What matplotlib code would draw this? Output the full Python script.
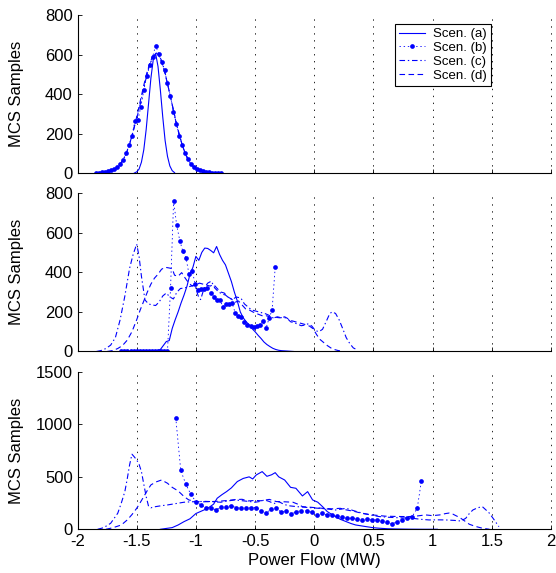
import matplotlib
matplotlib.use("Agg")
import matplotlib.pyplot as plt

# ---- data (x in MW, y = MCS samples) ----
top_x = [-1.84, -1.815, -1.79, -1.765, -1.74, -1.715, -1.69, -1.665, -1.64, -1.615,
         -1.59, -1.565, -1.54, -1.515, -1.49, -1.465, -1.44, -1.415, -1.39, -1.365,
         -1.34, -1.315, -1.29, -1.265, -1.24, -1.215, -1.19, -1.165, -1.14, -1.115,
         -1.09, -1.065, -1.04, -1.015, -0.99, -0.965, -0.94, -0.915, -0.89, -0.865,
         -0.84, -0.815, -0.79]
top_b = [1, 2, 3, 6, 10, 15, 22, 33, 47, 68,
         100, 140, 190, 262, 268, 335, 420, 490, 545, 590,
         645, 605, 560, 520, 455, 390, 310, 250, 190, 140,
         100, 70, 48, 32, 22, 15, 9, 6, 4, 2,
         1, 1, 0]
top_c = [1, 2, 3, 5, 8, 13, 20, 30, 45, 66,
         97, 138, 188, 245, 300, 360, 430, 495, 550, 585,
         605, 600, 570, 520, 455, 385, 318, 250, 192, 140,
         98, 67, 44, 28, 18, 11, 7, 4, 2, 1,
         1, 0, 0]
top_d = [1, 1, 2, 4, 7, 12, 19, 29, 44, 65,
         96, 136, 186, 248, 310, 378, 445, 505, 555, 592,
         610, 598, 565, 515, 452, 388, 320, 255, 195, 142,
         100, 68, 45, 29, 18, 11, 6, 3, 2, 1,
         0, 0, 0]
top_a_x = [-1.52, -1.50, -1.48, -1.46, -1.44, -1.42, -1.40, -1.38, -1.36, -1.34,
           -1.32, -1.30, -1.28, -1.26, -1.24, -1.22, -1.20, -1.18]
top_a = [0, 6, 20, 55, 118, 220, 350, 480, 575, 605,
         540, 420, 285, 165, 85, 36, 12, 2]

mid_a_x = [-1.35, -1.30, -1.25, -1.225, -1.20, -1.175, -1.15, -1.125, -1.10,
           -1.075, -1.05, -1.025, -1.0, -0.975, -0.95, -0.925, -0.90, -0.875, -0.85,
           -0.825, -0.80, -0.775, -0.75, -0.725, -0.70, -0.675, -0.65, -0.625, -0.60,
           -0.575, -0.55, -0.525, -0.50, -0.475, -0.45, -0.425, -0.40, -0.375, -0.35,
           -0.325, -0.30, -0.275, -0.25, -0.225, -0.20, -0.175]
mid_a = [0, 10, 50, 55, 116, 160, 200, 245, 285,
         330, 390, 425, 480, 460, 500, 522, 520, 510, 498,
         530, 490, 460, 437, 395, 353, 300, 255, 200, 170,
         150, 135, 115, 100, 82, 66, 48, 35, 25, 16,
         10, 6, 4, 3, 2, 1, 0]
mid_b_x = [-1.630, -1.604, -1.578, -1.552, -1.526, -1.500, -1.474, -1.448, -1.422, -1.396,
           -1.370, -1.344, -1.318, -1.292, -1.266, -1.240,
           -1.214, -1.188, -1.162, -1.136, -1.110, -1.084, -1.058, -1.032, -1.006, -0.980,
           -0.954, -0.928, -0.902, -0.876, -0.850, -0.824, -0.798, -0.772, -0.746, -0.720,
           -0.694, -0.668, -0.642, -0.616, -0.590, -0.564, -0.538, -0.512, -0.486, -0.460,
           -0.434, -0.408, -0.382, -0.356, -0.330]
mid_b = [0, 0, 0, 0, 0, 0, 0, 0, 0, 0, 0, 0, 0, 0, 0, 0,
         319, 761, 636, 560, 505, 474, 390, 407, 343, 309,
         314, 316, 322, 297, 277, 258, 260, 226, 241, 241,
         243, 196, 179, 174, 150, 133, 128, 125, 128, 133,
         154, 116, 167, 209, 425]
mid_c_x = [-1.84, -1.80, -1.76, -1.72, -1.68, -1.64, -1.60, -1.56, -1.53, -1.50,
           -1.48, -1.46, -1.43, -1.40, -1.37, -1.34, -1.31, -1.28, -1.25, -1.22,
           -1.19, -1.16, -1.13, -1.10, -1.07, -1.04, -1.01, -0.98, -0.96, -0.93,
           -0.90, -0.87, -0.84, -0.81, -0.78, -0.75, -0.72, -0.69, -0.66, -0.62,
           -0.59, -0.56, -0.53, -0.50, -0.47, -0.44, -0.41, -0.38, -0.35, -0.32,
           -0.29, -0.26, -0.23, -0.20, -0.17, -0.14, -0.11, -0.08, -0.05, -0.02,
           0.01, 0.04, 0.07, 0.10, 0.13, 0.15, 0.18, 0.21, 0.24, 0.27,
           0.30, 0.33, 0.35]
mid_c = [0, 5, 15, 32, 70, 160, 280, 420, 490, 542,
         480, 380, 260, 240, 235, 232, 250, 280, 295, 275,
         265, 300, 318, 320, 325, 330, 336, 280, 262, 320,
         345, 355, 320, 302, 290, 285, 270, 262, 275, 270,
         240, 225, 210, 205, 200, 195, 190, 182, 170, 172,
         170, 172, 168, 150, 145, 138, 130, 133, 140, 128,
         105, 100, 112, 150, 190, 200, 192, 160, 116, 70,
         40, 18, 12]
mid_d_x = [-1.75, -1.70, -1.66, -1.62, -1.58, -1.54, -1.50, -1.47, -1.44, -1.41,
           -1.38, -1.35, -1.32, -1.29, -1.26, -1.23, -1.20, -1.18, -1.15, -1.12,
           -1.09, -1.06, -1.03, -1.00, -0.97, -0.94, -0.91, -0.88, -0.85, -0.82,
           -0.79, -0.76, -0.73, -0.70, -0.67, -0.64, -0.61, -0.58, -0.55, -0.52,
           -0.49, -0.46, -0.43, -0.40, -0.37, -0.34, -0.31, -0.28, -0.25, -0.22,
           -0.19, -0.16, -0.13, -0.10, -0.07, -0.04, -0.01, 0.02, 0.05, 0.08,
           0.11, 0.14, 0.17, 0.20, 0.23]
mid_d = [0, 5, 15, 30, 57, 100, 160, 210, 255, 300,
         340, 370, 390, 415, 425, 422, 418, 385, 380, 398,
         370, 345, 330, 336, 345, 340, 335, 330, 338, 318,
         300, 295, 275, 265, 248, 255, 235, 215, 210, 200,
         192, 185, 178, 180, 172, 170, 175, 170, 175, 165,
         155, 150, 145, 140, 135, 128, 115, 85, 60, 45,
         30, 18, 10, 5, 2]

bot_a_x = [-1.30, -1.25, -1.20, -1.15, -1.10, -1.05, -1.00, -0.95, -0.90, -0.85,
           -0.82, -0.78, -0.74, -0.70, -0.65, -0.60, -0.55, -0.52, -0.49, -0.44,
           -0.40, -0.36, -0.33, -0.30, -0.25, -0.20, -0.155, -0.10, -0.056, -0.014,
           0.03, 0.07, 0.11, 0.15, 0.18, 0.22, 0.27, 0.31, 0.35, 0.40,
           0.44, 0.50, 0.55, 0.62, 0.69, 0.80, 0.92, 1.04]
bot_a = [0, 8, 16, 41, 73, 100, 150, 175, 200, 240,
         296, 330, 360, 395, 455, 485, 500, 480, 518, 550,
         505, 520, 540, 500, 470, 400, 391, 318, 359, 280,
         258, 216, 169, 140, 121, 95, 73, 55, 41, 32,
         25, 15, 10, 5, 3, 1, 0, 0]
bot_b_x = [-1.17, -1.128, -1.085, -1.043, -1.0, -0.958, -0.915, -0.873, -0.83, -0.788,
           -0.745, -0.703, -0.66, -0.618, -0.575, -0.533, -0.49, -0.448, -0.405, -0.363,
           -0.32, -0.278, -0.235, -0.193, -0.15, -0.108, -0.065, -0.023, 0.02, 0.062,
           0.105, 0.147, 0.19, 0.232, 0.275, 0.317, 0.36, 0.402, 0.445, 0.487,
           0.53, 0.572, 0.615, 0.657, 0.70, 0.742, 0.785, 0.827, 0.87, 0.905]
bot_b = [1065, 563, 429, 334, 264, 232, 200, 207, 184, 216,
         216, 226, 207, 200, 207, 207, 207, 178, 153, 194,
         200, 162, 178, 146, 169, 178, 178, 162, 137, 153,
         137, 137, 127, 121, 105, 105, 99, 89, 95, 89,
         89, 83, 73, 51, 73, 89, 105, 121, 200, 461]
bot_c_x = [-1.83, -1.78, -1.72, -1.66, -1.63, -1.60, -1.58, -1.56, -1.54, -1.52,
           -1.50, -1.48, -1.46, -1.44, -1.42, -1.40, -1.38, -1.34, -1.29, -1.24,
           -1.17, -1.10, -1.04, -0.98, -0.92, -0.87, -0.82, -0.79, -0.73, -0.67,
           -0.63, -0.59, -0.55, -0.50, -0.46, -0.42, -0.38, -0.34, -0.30, -0.26,
           -0.22, -0.15, -0.08, -0.02, 0.04, 0.10, 0.18, 0.27, 0.34, 0.41,
           0.48, 0.55, 0.62, 0.69, 0.76, 0.83, 0.90, 0.97, 1.04, 1.11,
           1.18, 1.24, 1.28, 1.31, 1.34, 1.38, 1.42, 1.45, 1.48, 1.52,
           1.56]
bot_c = [0, 15, 57, 153, 250, 360, 480, 614, 716, 690,
         661, 620, 550, 430, 312, 220, 205, 216, 225, 232,
         245, 258, 262, 264, 266, 264, 260, 258, 270, 280,
         275, 270, 265, 258, 265, 280, 265, 245, 264, 240,
         225, 216, 210, 205, 200, 195, 184, 200, 175, 153,
         135, 121, 115, 111, 108, 105, 95, 89, 90, 89,
         85, 79, 105, 150, 184, 205, 216, 185, 153, 90,
         25]
bot_d_x = [-1.76, -1.70, -1.63, -1.58, -1.54, -1.50, -1.47, -1.44, -1.41, -1.38,
           -1.34, -1.29, -1.24, -1.20, -1.15, -1.10, -1.06, -1.00, -0.94, -0.87,
           -0.80, -0.73, -0.67, -0.61, -0.56, -0.50, -0.45, -0.38, -0.32, -0.25,
           -0.18, -0.14, -0.10, -0.03, 0.07, 0.15, 0.22, 0.27, 0.34, 0.41,
           0.51, 0.60, 0.70, 0.80, 0.87, 0.94, 1.00, 1.06, 1.11, 1.14,
           1.17, 1.23, 1.27, 1.31, 1.36, 1.42, 1.48]
bot_d = [0, 15, 41, 89, 140, 200, 255, 312, 370, 423,
         450, 470, 439, 400, 366, 312, 280, 264, 262, 264,
         268, 275, 283, 286, 270, 275, 272, 285, 264, 262,
         258, 240, 216, 210, 200, 195, 200, 185, 170, 150,
         135, 125, 122, 121, 127, 137, 130, 137, 150, 155,
         145, 111, 80, 48, 28, 10, 0]

labels = ["Scen. (a)", "Scen. (b)", "Scen. (c)", "Scen. (d)"]
x_ticks = [-2, -1.5, -1, -0.5, 0, 0.5, 1, 1.5, 2]
x_tick_labels = ["-2", "-1.5", "-1", "-0.5", "0", "0.5", "1", "1.5", "2"]

plt.rcParams['font.family'] = ['Liberation Sans', 'DejaVu Sans']
plt.rcParams['axes.unicode_minus'] = False
plt.rcParams['lines.scale_dashes'] = False

style_a = dict(color='b', lw=0.8, ls='-')
style_b = dict(color='b', lw=0.6, ls=(0, (1, 2)), marker='o', ms=3.4, mec='none')
style_c = dict(color='b', lw=0.8, ls=(0, (4, 2, 1, 2)))
style_d = dict(color='b', lw=0.8, ls=(0, (4, 2.5)))
grid_style = dict(color='k', ls=(0, (1, 4)), lw=0.6)

panels = [
    (top_a_x, top_a, top_x, top_b, top_x, top_c, top_x, top_d, 800, [0, 200, 400, 600, 800]),
    (mid_a_x, mid_a, mid_b_x, mid_b, mid_c_x, mid_c, mid_d_x, mid_d, 800, [0, 200, 400, 600, 800]),
    (bot_a_x, bot_a, bot_b_x, bot_b, bot_c_x, bot_c, bot_d_x, bot_d, 1500, [0, 500, 1000, 1500]),
]
positions = [[0.1394, 0.698, 0.8516, 0.2757],
             [0.1394, 0.3866, 0.8516, 0.2766],
             [0.1394, 0.0763, 0.8516, 0.2745]]

fig = plt.figure(figsize=(5.56, 5.73), dpi=100)
axes = []
for i, (xa, ya, xb, yb, xc, yc, xd, yd, ymax, yticks) in enumerate(panels):
    ax = fig.add_axes(positions[i])
    ax.plot(xa, ya, label=labels[0], **style_a)
    ax.plot(xb, yb, label=labels[1], **style_b)
    ax.plot(xc, yc, label=labels[2], **style_c)
    ax.plot(xd, yd, label=labels[3], **style_d)

    ax.set_xlim(-2, 2)
    ax.set_ylim(0, ymax)
    ax.set_xticks(x_ticks)
    ax.set_yticks(yticks)
    if i == 2:
        ax.set_xticklabels(x_tick_labels)
        ax.set_xlabel("Power Flow (MW)", fontsize=12, labelpad=3)
    else:
        ax.set_xticklabels([])
    ax.set_ylabel("MCS Samples", fontsize=12)
    ax.yaxis.set_label_coords(-0.113, 0.5)

    for side in ['top', 'right']:
        ax.spines[side].set_visible(False)
    for side in ['left', 'bottom']:
        ax.spines[side].set_color('k')
        ax.spines[side].set_linewidth(0.8)
    ax.tick_params(direction='in', length=3, width=0.6, labelsize=12, pad=3.5)
    ax.grid(True, axis='x', **grid_style)
    # grid line on the right edge (x = 2) is lost at the clip boundary
    ax.axvline(1.997, clip_on=False, zorder=0.5, **grid_style)
    axes.append(ax)

leg = axes[0].legend(loc='upper right', bbox_to_anchor=(0.873, 0.943), borderaxespad=0,
                     fontsize=9.5, handlelength=2.0, labelspacing=0.12, numpoints=1,
                     fancybox=False, framealpha=1, edgecolor='k', borderpad=0.3,
                     handletextpad=0.6)
leg.get_frame().set_linewidth(0.8)

fig.savefig("out.png", dpi=100)
